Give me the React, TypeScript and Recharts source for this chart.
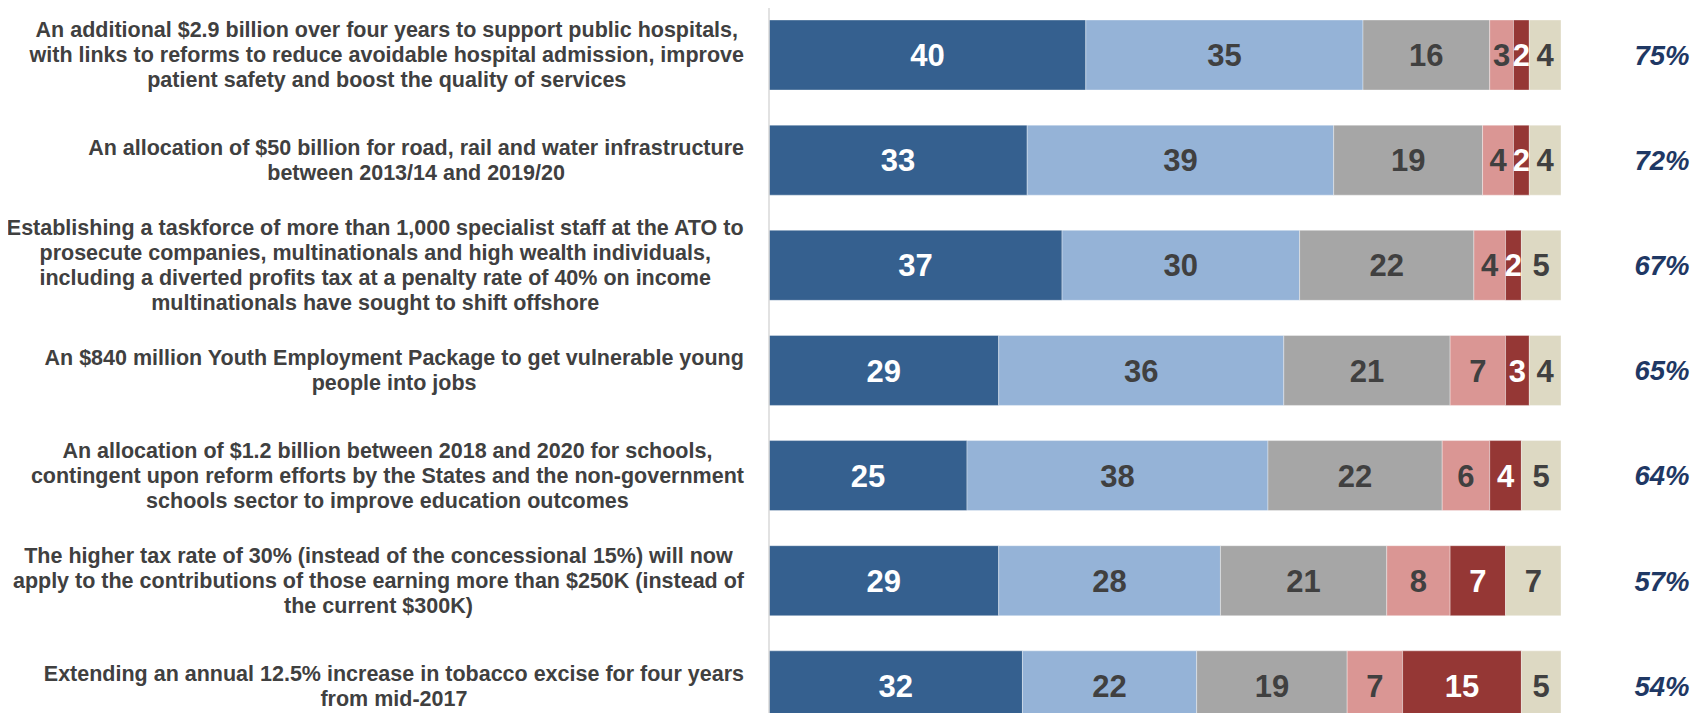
import React from "react";
import { BarChart, Bar, XAxis, YAxis, LabelList } from "recharts";

// survey items, one line break per "\n"
const categories = [
  "An additional $2.9 billion over four years to support public hospitals,\nwith links to reforms to reduce avoidable hospital admission, improve\npatient safety and boost the quality of services",
  "An allocation of $50 billion for road, rail and water infrastructure\nbetween 2013/14 and 2019/20",
  "Establishing a taskforce of more than 1,000 specialist staff at the ATO to\nprosecute companies, multinationals and high wealth individuals,\nincluding a diverted profits tax at a penalty rate of 40% on income\nmultinationals have sought to shift offshore",
  "An $840 million Youth Employment Package to get vulnerable young\npeople into jobs",
  "An allocation of $1.2 billion between 2018 and 2020 for schools,\ncontingent upon reform efforts by the States and the non-government\nschools sector to improve education outcomes",
  "The higher tax rate of 30% (instead of the concessional 15%) will now\napply to the contributions of those earning more than $250K (instead of\nthe current $300K)",
  "Extending an annual 12.5% increase in tobacco excise for four years\nfrom mid-2017",
];

const stronglySupport = [40, 32.6, 37, 29, 25, 29, 32];
const somewhatSupport = [35, 38.7, 30, 36, 38, 28, 22];
const neutral = [16, 18.8, 22, 21, 22, 21, 19];
const somewhatOppose = [3, 3.9, 4, 7, 6, 8, 7];
const stronglyOppose = [2, 2.0, 2, 3, 4, 7, 15];
const unsure = [4, 4.0, 5, 4, 5, 7, 5];
const netSupport = [75, 72, 67, 65, 64, 57, 54];

const FONT = "'Liberation Sans', Arial, sans-serif";
const DARK_TEXT = "#404040";

const data = categories.map((name, i) => ({
  name,
  s1: stronglySupport[i],
  s2: somewhatSupport[i],
  s3: neutral[i],
  s4: somewhatOppose[i],
  s5: stronglyOppose[i],
  s6: unsure[i],
}));

const series = [
  { key: "s1", name: "Strongly support", fill: "#35608F", text: "#FFFFFF" },
  { key: "s2", name: "Somewhat support", fill: "#95B3D7", text: DARK_TEXT },
  { key: "s3", name: "Neither", fill: "#A6A6A6", text: DARK_TEXT },
  { key: "s4", name: "Somewhat oppose", fill: "#DA9694", text: DARK_TEXT },
  { key: "s5", name: "Strongly oppose", fill: "#953735", text: "#FFFFFF" },
  { key: "s6", name: "Unsure", fill: "#DDD9C3", text: DARK_TEXT },
];

let ctx: CanvasRenderingContext2D | null = null;
function textWidth(s: string) {
  if (!ctx) ctx = document.createElement("canvas").getContext("2d");
  if (!ctx) return s.length * 11;
  ctx.font = "bold 21.5px 'Liberation Sans', Arial, sans-serif";
  return ctx.measureText(s).width;
}

// multi-line label, centred on its widest line which is right-aligned to the tick x
const CategoryTick = (props: any) => {
  const { x, y, payload } = props;
  const lines = String(payload.value).split("\n");
  const maxW = Math.max(...lines.map(textWidth));
  const cx = x - maxW / 2;
  const lh = 25;
  const top = y - ((lines.length - 1) * lh) / 2;
  return (
    <text textAnchor="middle" fill={DARK_TEXT} fontFamily={FONT} fontWeight="bold" fontSize={21.5}>
      {lines.map((l, i) => (
        <tspan key={i} x={cx} y={top + i * lh} dy="0.36em">
          {l}
        </tspan>
      ))}
    </text>
  );
};

function box(p: any) {
  const vb = p.viewBox || p;
  return { x: vb.x ?? p.x, y: vb.y ?? p.y, w: vb.width ?? p.width, h: vb.height ?? p.height };
}

const segmentLabel = (color: string) => (p: any) => {
  const b = box(p);
  return (
    <text
      x={b.x + b.w / 2}
      y={b.y + b.h / 2}
      dy="0.36em"
      textAnchor="middle"
      fill={color}
      fontFamily={FONT}
      fontWeight="bold"
      fontSize={31}
    >
      {Math.round(Number(p.value))}
    </text>
  );
};

const netLabel = (p: any) => {
  const b = box(p);
  return (
    <text
      x={b.x + b.w + 101}
      y={b.y + b.h / 2}
      dy="0.36em"
      textAnchor="middle"
      fill="#1F3864"
      fontFamily={FONT}
      fontWeight="bold"
      fontStyle="italic"
      fontSize={27.5}
    >
      {netSupport[p.index] + "%"}
    </text>
  );
};

export default function App() {
  return (
    <div style={{ margin: -8, width: 1703, height: 721, overflow: "hidden" }}>
      <BarChart
        width={1703}
        height={745}
        data={data}
        layout="vertical"
        margin={{ top: 2, right: 142, left: 0, bottom: 7 }}
        barSize={70}
      >
        <XAxis type="number" domain={[0, 100]} hide />
        <YAxis
          type="category"
          dataKey="name"
          width={769}
          axisLine={{ stroke: "#D9D9D9", strokeWidth: 1.5 }}
          tickLine={false}
          tickSize={0}
          tickMargin={25}
          tick={<CategoryTick />}
          interval={0}
        />
        {series.map((s, idx) => (
          <Bar
            key={s.key}
            dataKey={s.key}
            name={s.name}
            stackId="a"
            fill={s.fill}
            stroke="#FFFFFF"
            strokeWidth={0.6}
            strokeOpacity={0.6}
            isAnimationActive={false}
          >
            <LabelList dataKey={s.key} content={segmentLabel(s.text)} />
            {idx === series.length - 1 && <LabelList dataKey={s.key} content={netLabel} />}
          </Bar>
        ))}
      </BarChart>
    </div>
  );
}
